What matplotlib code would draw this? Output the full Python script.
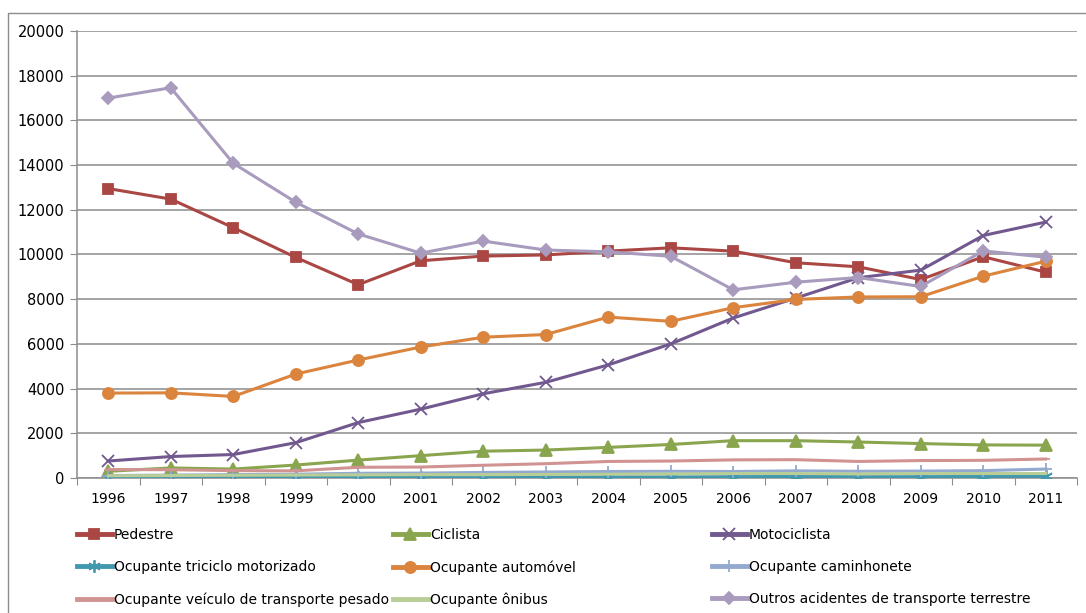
import matplotlib.pyplot as plt
from matplotlib.lines import Line2D
from matplotlib.patches import Rectangle
import numpy as np

# dados
anos = ['1996', '1997', '1998', '1999', '2000', '2001', '2002', '2003',
        '2004', '2005', '2006', '2007', '2008', '2009', '2010', '2011']
pedestre = [12950, 12480, 11200, 9870, 8650, 9720, 9930, 9980, 10150, 10300, 10150, 9630, 9450, 8880, 9900, 9210]
ciclista = [300, 450, 400, 580, 800, 1000, 1200, 1250, 1370, 1500, 1670, 1670, 1610, 1540, 1480, 1470]
motociclista = [760, 960, 1050, 1580, 2480, 3080, 3770, 4280, 5060, 6000, 7160, 8050, 8960, 9300, 10850, 11450]
triciclo = [15, 18, 20, 25, 30, 35, 40, 45, 55, 50, 60, 70, 65, 60, 70, 75]
automovel = [3800, 3810, 3650, 4650, 5280, 5860, 6300, 6420, 7200, 7010, 7620, 7990, 8100, 8110, 9030, 9700]
caminhonete = [110, 130, 150, 170, 210, 220, 250, 270, 290, 300, 290, 320, 300, 310, 330, 400]
pesado = [380, 370, 330, 320, 480, 490, 570, 640, 740, 760, 810, 820, 740, 780, 790, 850]
onibus = [100, 110, 120, 130, 140, 150, 150, 160, 170, 180, 200, 200, 180, 200, 200, 200]
outros = [17000, 17460, 14080, 12340, 10920, 10060, 10600, 10200, 10120, 9920, 8420, 8760, 8970, 8570, 10160, 9880]

series = [
    ('Pedestre', pedestre, '#AA4643', 's', 7.5),
    ('Ciclista', ciclista, '#89A54E', '^', 8),
    ('Motociclista', motociclista, '#71588F', 'x', 8),
    ('Ocupante triciclo motorizado', triciclo, '#4198AF', (6, 2, 0), 9),
    ('Ocupante automóvel', automovel, '#DB843D', 'o', 8),
    ('Ocupante caminhonete', caminhonete, '#93A9CF', '+', 9),
    ('Ocupante veículo de transporte pesado', pesado, '#D19392', '_', 6),
    ('Ocupante ônibus', onibus, '#B9CD96', 'None', 6),
    ('Outros acidentes de transporte terrestre', outros, '#A99BBD', 'D', 6.5),
]

plt.rcParams['font.family'] = ['DejaVu Sans']

fig = plt.figure(figsize=(10.86, 6.13), dpi=100)
ax = fig.add_axes([77 / 1086, 1 - 478 / 613, 1000 / 1086, 447 / 613])

x = np.arange(len(anos))
handles = []
for nome, vals, cor, mk, ms in series:
    ln, = ax.plot(x, vals, color=cor, lw=2.2, marker=mk, markersize=ms,
                  markeredgecolor=cor, markerfacecolor=cor, markeredgewidth=1.3,
                  label=nome, zorder=3)
    handles.append(ln)

ax.set_xlim(-0.5, len(anos) - 0.5)
ax.set_ylim(0, 20000)
ax.set_yticks(np.arange(0, 20001, 2000))
ax.set_yticklabels([str(v) for v in range(0, 20001, 2000)], fontsize=10.5)
ax.yaxis.grid(True, color='#8C8C8C', lw=1.1)
ax.set_axisbelow(True)

# ticks entre categorias, rotulos no centro
ax.set_xticks(np.arange(-0.5, len(anos), 1.0))
ax.set_xticklabels([])
ax.set_xticks(x, minor=True)
ax.set_xticklabels(anos, minor=True, fontsize=10)
ax.tick_params(axis='x', which='major', length=5, color='#8C8C8C', direction='out')
ax.tick_params(axis='x', which='minor', length=0, pad=10)
ax.tick_params(axis='y', length=5, color='#8C8C8C', direction='out', pad=4)

for s in ['top', 'right']:
    ax.spines[s].set_visible(False)
for s in ['left', 'bottom']:
    ax.spines[s].set_color('#8C8C8C')
    ax.spines[s].set_linewidth(1.1)

# borda externa
fig.patches.append(Rectangle((8 / 1086, -0.1), 1.2, 1.1 - 13 / 613,
                             transform=fig.transFigure, fill=False,
                             edgecolor='#8C8C8C', lw=1.0))

# legenda em tres colunas
ordem = [[0, 3, 6], [1, 4, 7], [2, 5, 8]]
xs = [77, 393, 712]
for col, idx in zip(xs, ordem):
    hs = [Line2D([], [], color=handles[i].get_color(), lw=3.5,
                 marker=handles[i].get_marker(),
                 markersize=handles[i].get_markersize(),
                 markeredgecolor=handles[i].get_color(),
                 markerfacecolor=handles[i].get_color(), markeredgewidth=1.3)
          for i in idx]
    fig.legend(hs, [series[i][0] for i in idx], loc='upper left',
               bbox_to_anchor=(col / 1086, 1 - 528 / 613), frameon=False,
               fontsize=10, handlelength=2.5, handletextpad=0.15,
               labelspacing=1.3, borderaxespad=0, borderpad=0)

fig.savefig('out.png', dpi=100)
